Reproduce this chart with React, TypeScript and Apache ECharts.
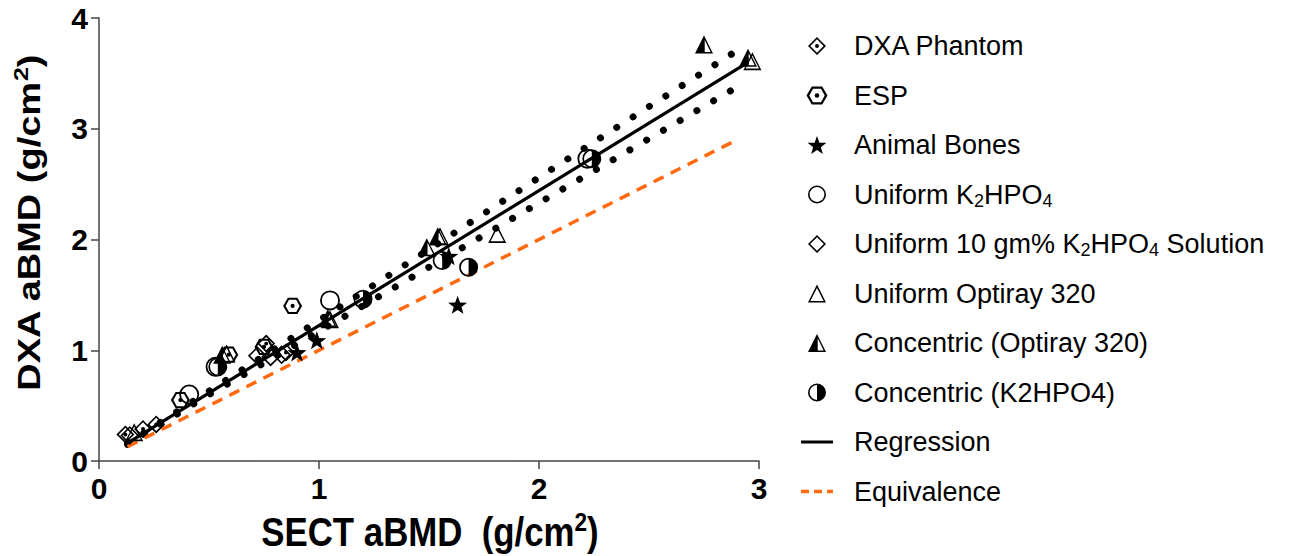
import React, { useEffect, useRef } from 'react';
import * as echarts from 'echarts';

// ---------- data ----------
const xTicks = [0, 1, 2, 3];
const yTicks = [0, 1, 2, 3, 4];

const dxaPhantom = [[0.12, 0.24], [0.20, 0.29], [0.26, 0.33], [0.76, 1.06], [0.85, 0.98]];
const esp = [[0.37, 0.55], [0.59, 0.96], [0.88, 1.40], [0.75, 1.03]];
const animalBones = [[0.90, 0.98], [0.99, 1.09], [1.59, 1.85], [1.63, 1.41]];
const uniformK2HPO4 = [[0.41, 0.60], [0.53, 0.85], [1.05, 1.45], [2.22, 2.73]];
const uniformSolution = [[0.14, 0.23], [0.72, 0.95], [0.78, 0.94], [0.83, 0.96]];
const uniformOptiray = [[0.16, 0.26], [0.58, 0.97], [1.05, 1.28], [1.55, 2.03], [1.81, 2.05], [2.97, 3.61]];
const concentricOptiray = [[0.56, 0.96], [1.04, 1.29], [1.49, 1.93], [1.54, 2.03], [2.75, 3.76], [2.95, 3.64]];
const concentricK2HPO4 = [[0.54, 0.85], [1.20, 1.46], [1.56, 1.81], [1.68, 1.75], [2.24, 2.73]];

const regX = [0.12, 2.95];
const regY = [0.15, 3.60];
const eqX = [0.13, 2.9];
const eqY = [0.13, 2.9];

const bandX = [0.13, 0.5, 1.0, 1.5, 2.0, 2.5, 2.92];
const upperBand = [0.16, 0.63, 1.27, 1.91, 2.56, 3.20, 3.73];
const lowerBand = [0.15, 0.60, 1.17, 1.75, 2.33, 2.91, 3.40];

const legendNames = [
  'DXA Phantom',
  'ESP',
  'Animal Bones',
  'Uniform K2HPO4',
  'Uniform 10 gm% K2HPO4 Solution',
  'Uniform Optiray 320',
  'Concentric (Optiray 320)',
  'Concentric (K2HPO4)',
  'Regression',
  'Equivalence',
];

// ---------- marker shapes ----------
const SYM_DIAMOND_DOT = 'path://M50 0L100 50L50 100L0 50Z M50 13L13 50L50 87L87 50Z M39 50A11 11 0 1 0 61 50A11 11 0 1 0 39 50Z';
const SYM_HEX_DOT = 'path://M0 50L25 7L75 7L100 50L75 93L25 93Z M13 50L31 82L69 82L87 50L69 18L31 18Z M39 50A11 11 0 1 0 61 50A11 11 0 1 0 39 50Z';
const SYM_STAR = 'path://M50 0L62 33.5L97.6 34.5L69.4 56.3L79.4 90.5L50 70.5L20.6 90.5L30.6 56.3L2.4 34.5L38 33.5Z';
const SYM_RING = 'path://M0 50A50 50 0 1 1 100 50A50 50 0 1 1 0 50Z M9 50A41 41 0 1 0 91 50A41 41 0 1 0 9 50Z';
const SYM_DIAMOND = 'path://M50 0L100 50L50 100L0 50Z M50 12L12 50L50 88L88 50Z';
const SYM_TRI = 'path://M50 0L0 100L100 100Z M50 19L87 91L13 91Z';
const SYM_TRI_HALF = 'path://M50 0L0 100L100 100Z M54 24L87 91L54 91Z';
const SYM_CIRCLE_HALF = 'path://M50 0A50 50 0 1 1 50 100A50 50 0 1 1 50 0Z M50 9A41 41 0 0 0 50 91Z';
const ICON_SOLID = 'path://M0 0H32V3H0Z';
const ICON_DASHED = 'path://M0 0H8V3.5H0Z M13 0H21V3.5H13Z M26 0H32V3.5H26Z';

const SANS = "'Liberation Sans',Arial,Helvetica,sans-serif";

function scatter(name: string, data: number[][], symbol: string, size: number) {
  return {
    name,
    type: 'scatter',
    data,
    symbol,
    symbolSize: size,
    symbolKeepAspect: true,
    itemStyle: { color: '#000', opacity: 1 },
    z: 4,
  };
}

const legendText: Record<string, string> = {
  'Uniform K2HPO4': 'Uniform K{sub|2}HPO{sub|4}',
  'Uniform 10 gm% K2HPO4 Solution': 'Uniform 10 gm% K{sub|2}HPO{sub|4} Solution',
};

export default function App() {
  const ref = useRef<HTMLDivElement>(null);

  useEffect(() => {
    if (!ref.current) return;
    const chart = echarts.init(ref.current, undefined, { renderer: 'svg' });
    const axisColor = '#444';
    const option: any = {
      animation: false,
      grid: { left: 99, right: 532, top: 18, bottom: 95 },
      xAxis: {
        type: 'value',
        min: xTicks[0],
        max: xTicks[xTicks.length - 1],
        interval: 1,
        splitLine: { show: false },
        axisLine: { lineStyle: { color: axisColor, width: 1.5 } },
        axisTick: { length: 8, lineStyle: { color: axisColor, width: 1.5 } },
        axisLabel: { fontFamily: SANS, fontWeight: 'bold', fontSize: 30, color: '#000', margin: 12 },
      },
      yAxis: {
        type: 'value',
        min: yTicks[0],
        max: yTicks[yTicks.length - 1],
        interval: 1,
        splitLine: { show: false },
        axisLine: { lineStyle: { color: axisColor, width: 1.5 } },
        axisTick: { length: 8, lineStyle: { color: axisColor, width: 1.5 } },
        axisLabel: { fontFamily: SANS, fontWeight: 'bold', fontSize: 30, color: '#000', margin: 11 },
      },
      legend: {
        orient: 'vertical',
        left: 796,
        top: 26,
        itemWidth: 32,
        itemHeight: 18,
        itemGap: 19.5,
        selectedMode: false,
        itemStyle: { opacity: 1 },
        data: legendNames.map((n) =>
          n === 'Regression' ? { name: n, icon: ICON_SOLID } : n === 'Equivalence' ? { name: n, icon: ICON_DASHED } : n
        ),
        formatter: (name: string) => legendText[name] || name,
        textStyle: {
          fontFamily: SANS,
          fontSize: 27,
          color: '#000',
          lineHeight: 30,
          padding: [0, 0, 0, 16],
          rich: {
            sub: { fontFamily: SANS, fontSize: 18, color: '#000', verticalAlign: 'bottom', lineHeight: 30 },
          },
        },
      },
      graphic: [
        {
          type: 'text',
          x: 29,
          y: 223,
          rotation: Math.PI / 2,
          scaleY: 0.84,
          style: {
            text: '{b|DXA aBMD (g/cm}{sup|2}{b|)}',
            align: 'center',
            verticalAlign: 'middle',
            rich: {
              b: { fontFamily: SANS, fontWeight: 'bold', fontSize: 38, lineHeight: 44, fill: '#000' },
              sup: { fontFamily: SANS, fontWeight: 'bold', fontSize: 25, lineHeight: 26, verticalAlign: 'top', fill: '#000' },
            },
          },
        },
        {
          type: 'text',
          x: 430,
          y: 532,
          scaleX: 0.87,
          style: {
            text: '{b|SECT aBMD  (g/cm}{sup|2}{b|)}',
            align: 'center',
            verticalAlign: 'middle',
            rich: {
              b: { fontFamily: SANS, fontWeight: 'bold', fontSize: 40, lineHeight: 46, fill: '#000' },
              sup: { fontFamily: SANS, fontWeight: 'bold', fontSize: 26, lineHeight: 26, verticalAlign: 'top', fill: '#000' },
            },
          },
        },
      ],
      series: [
        {
          name: 'Upper band',
          type: 'line',
          data: bandX.map((x, i) => [x, upperBand[i]]),
          symbol: 'none',
          silent: true,
          lineStyle: { color: '#000', width: 7, type: [0.01, 19.4], cap: 'round' },
          z: 2,
        },
        {
          name: 'Lower band',
          type: 'line',
          data: bandX.map((x, i) => [x, lowerBand[i]]),
          symbol: 'none',
          silent: true,
          lineStyle: { color: '#000', width: 7, type: [0.01, 19.4], cap: 'round' },
          z: 2,
        },
        scatter('DXA Phantom', dxaPhantom, SYM_DIAMOND_DOT, 18),
        scatter('ESP', esp, SYM_HEX_DOT, 19),
        scatter('Animal Bones', animalBones, SYM_STAR, 19),
        scatter('Uniform K2HPO4', uniformK2HPO4, SYM_RING, 20),
        scatter('Uniform 10 gm% K2HPO4 Solution', uniformSolution, SYM_DIAMOND, 19),
        scatter('Uniform Optiray 320', uniformOptiray, SYM_TRI, 18),
        scatter('Concentric (Optiray 320)', concentricOptiray, SYM_TRI_HALF, 18),
        scatter('Concentric (K2HPO4)', concentricK2HPO4, SYM_CIRCLE_HALF, 19),
        {
          name: 'Regression',
          type: 'line',
          data: regX.map((x, i) => [x, regY[i]]),
          symbol: 'none',
          symbolKeepAspect: true,
          color: '#000',
          itemStyle: { color: '#000' },
          lineStyle: { color: '#000', width: 3.2 },
          z: 3,
        },
        {
          name: 'Equivalence',
          type: 'line',
          data: eqX.map((x, i) => [x, eqY[i]]),
          symbol: 'none',
          symbolKeepAspect: true,
          color: '#FF6A10',
          itemStyle: { color: '#FF6A10' },
          lineStyle: { color: '#FF6A10', width: 3.5, type: [11, 8] },
          z: 3,
        },
      ],
    };
    chart.setOption(option);
    return () => chart.dispose();
  }, []);

  return (
    <div
      ref={ref}
      style={{ position: 'absolute', left: 0, top: 0, width: 1291, height: 556, background: '#fff' }}
    />
  );
}
